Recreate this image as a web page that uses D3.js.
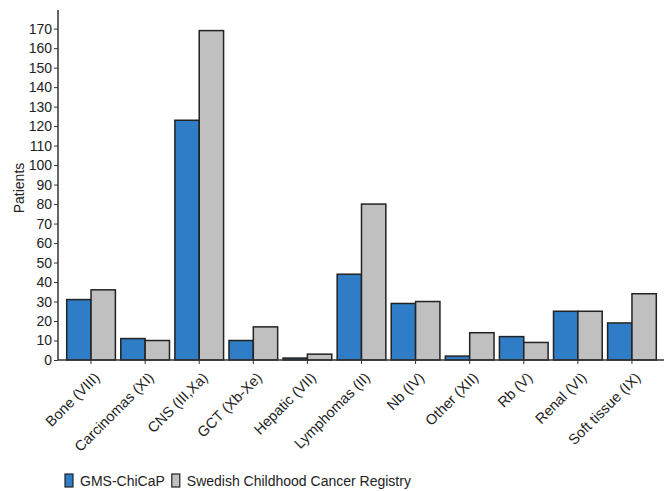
<!DOCTYPE html>
<html><head><meta charset="utf-8">
<script src="https://cdn.jsdelivr.net/npm/d3@7"></script>
<style>body{margin:0;background:#fff}svg{display:block}svg text{font-family:"Liberation Sans",Arial,sans-serif}</style>
</head><body>
<svg id="chart" width="664" height="491"></svg>
<script>
const categories = ["Bone (VIII)","Carcinomas (XI)","CNS (III,Xa)","GCT (Xb-Xe)","Hepatic (VII)","Lymphomas (II)","Nb (IV)","Other (XII)","Rb (V)","Renal (VI)","Soft tissue (IX)"];
const seriesNames = ["GMS-ChiCaP","Swedish Childhood Cancer Registry"];
const gmsValues = [31,11,123,10,1,44,29,2,12,25,19];
const registryValues = [36,10,169,17,3,80,30,14,9,25,34];
const yTicks = d3.range(0,171,10);
const colors = ["#2e7dc6","#c0c0c0"];

const svg = d3.select("#chart");
const x0 = d3.scaleBand().domain(categories).range([64,659]).paddingInner(0.1).paddingOuter(0.05);
const x1 = d3.scaleBand().domain(seriesNames).range([0,x0.bandwidth()]);
const y = d3.scaleLinear().domain([0,177]).range([360,15]);

const rows = categories.map((c,i)=>({c, vals:[gmsValues[i],registryValues[i]]}));

svg.append("g").selectAll("g.grp").data(rows).join("g").attr("class","grp")
 .attr("transform",d=>`translate(${x0(d.c)},0)`)
 .selectAll("rect").data(d=>d.vals.map((v,j)=>({v,s:seriesNames[j],j})))
 .join("rect")
 .attr("x",d=>x1(d.s)).attr("width",x1.bandwidth())
 .attr("y",d=>y(d.v)).attr("height",d=>y(0)-y(d.v))
 .attr("fill",d=>colors[d.j]).attr("stroke","#222").attr("stroke-width",1.5);

// y axis
const ya = svg.append("g").attr("transform","translate(58,0)")
 .call(d3.axisLeft(y).tickValues(yTicks).tickSize(4).tickPadding(2));
ya.select(".domain").attr("d","M0,10V360").attr("stroke","#333").attr("stroke-width",1.5);
ya.selectAll(".tick line").attr("stroke","#333");
ya.selectAll("text").attr("font-size",14).attr("fill","#222")
 .attr("font-family","Liberation Sans, Arial, sans-serif");

// x axis
const xa = svg.append("g").attr("transform",`translate(0,${y(0)})`)
 .call(d3.axisBottom(x0).tickSize(4).tickSizeOuter(0));
xa.select(".domain").attr("d","M58,0H664").attr("stroke","#333").attr("stroke-width",1.5);
xa.selectAll(".tick line").attr("stroke","#333");
xa.selectAll("text").attr("font-size",14.5).attr("fill","#222")
 .attr("font-family","Liberation Sans, Arial, sans-serif")
 .attr("text-anchor","end").attr("dy","0.35em")
 .attr("transform","translate(1,10) rotate(-45)");

svg.append("text").attr("transform","translate(24,188) rotate(-90)")
 .attr("text-anchor","middle").attr("font-size",14).attr("fill","#222").text("Patients");

// legend
const leg = svg.append("g").attr("transform","translate(65,474)");
let lx = 0;
seriesNames.forEach((s,i)=>{
  leg.append("rect").attr("x",lx).attr("y",0).attr("width",8).attr("height",13)
    .attr("fill",colors[i]).attr("stroke","#222").attr("stroke-width",1.2);
  const t = leg.append("text").attr("x",lx+15).attr("y",12).attr("font-size",14).attr("fill","#222").text(s);
  lx += 15 + t.node().getComputedTextLength() + 7;
});
</script>
</body></html>
